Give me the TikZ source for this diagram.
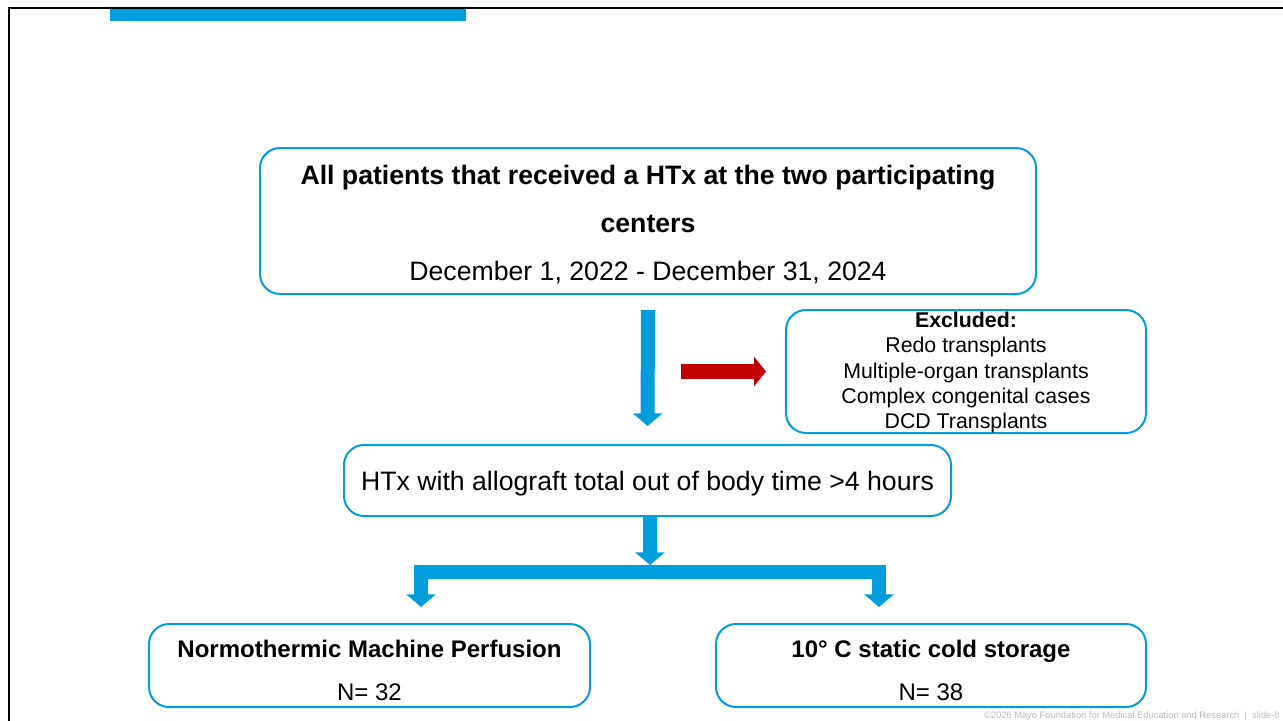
\documentclass[tikz,border=0pt]{standalone}
\usepackage{fontspec}
\setmainfont{Liberation Sans}
\usepackage{xcolor}
\usepackage{tikz}
\usetikzlibrary{arrows.meta}
\definecolor{mayoblue}{RGB}{0,158,223}
\definecolor{mayored}{RGB}{192,0,0}
\definecolor{footgray}{RGB}{185,185,185}

\begin{document}
\begin{tikzpicture}[x=0.75pt, y=-0.75pt,
    block/.style={rectangle, draw=mayoblue, line width=1.5pt, rounded corners=15pt, inner sep=0pt, align=center},
    arrow/.style={draw=mayoblue, line width=10.5pt, -{Triangle[length=9.5pt, width=21.75pt]}},
    exarrow/.style={draw=mayored, line width=11.25pt, -{Triangle[length=9pt, width=21.75pt]}}]

    \useasboundingbox (0,0) rectangle (1283,721);
    \draw [line width=1.5pt] (9,721) -- (9,8) -- (1283,8);
    \fill [mayoblue] (110,9) rectangle (466,21);

    \node [block, minimum width=582pt, minimum height=109.5pt, font=\fontsize{20}{36}\selectfont] (all) at (648,221)
        {\rule{0pt}{20.5pt}\textbf{All patients that received a HTx at the two participating}\\\textbf{centers}\\December 1, 2022 - December 31, 2024};
    \node [block, minimum width=270pt, minimum height=92.25pt, font=\fontsize{16}{18.9}\selectfont] (excl) at (966,371.5)
        {\rule{0pt}{13.2pt}\textbf{Excluded:}\\Redo transplants\\Multiple-organ transplants\\Complex congenital cases\\DCD Transplants};
    \node [block, minimum width=455.25pt, minimum height=53.25pt, font=\fontsize{20}{24}\selectfont] (htx) at (647.5,480.5)
        {\rule{0pt}{19pt}HTx with allograft total out of body time >4 hours};
    \node [block, minimum width=330.75pt, minimum height=62.25pt, font=\fontsize{18}{32}\selectfont] (nmp) at (369.5,665.5)
        {\rule{0pt}{20.6pt}\textbf{Normothermic Machine Perfusion}\\N= 32};
    \node [block, minimum width=322.5pt, minimum height=62.25pt, font=\fontsize{18}{32}\selectfont] (scs) at (931,665.5)
        {\rule{0pt}{20.6pt}\textbf{10° C static cold storage}\\N= 38};
    \node [anchor=east, inner sep=0pt, text=footgray, font=\fontsize{7}{8}\selectfont] (footer) at (1280,716)
        {©2026 Mayo Foundation for Medical Education and Research \ | \ slide-8};

    \coordinate (exstart) at (681,371.5);
    \coordinate (split) at (650,565);
    \coordinate (barmid) at (650,571.5);
    \coordinate (legL) at (421,607);
    \coordinate (legR) at (879,607);

    \draw [arrow, shorten <=11.25pt, shorten >=13.5pt] (all.south) -- (htx.north);
    \draw [exarrow, shorten >=14.25pt] (exstart) -- (excl.west);
    \draw [arrow] (htx.south -| split) -- (split);
    \draw [arrow, {Triangle[length=9.5pt, width=21.75pt]}-{Triangle[length=9.5pt, width=21.75pt]}, line join=miter] (legL) |- (barmid) -| (legR);
\end{tikzpicture}
\end{document}
